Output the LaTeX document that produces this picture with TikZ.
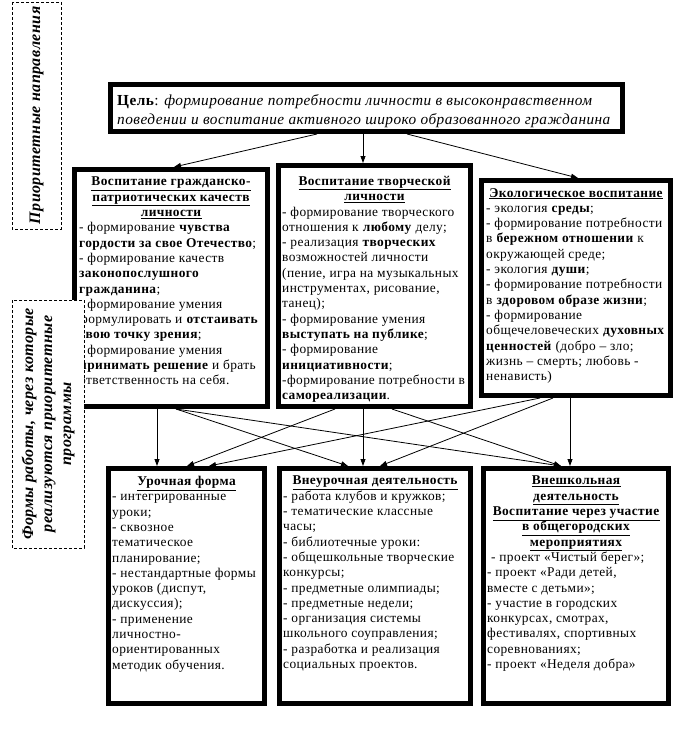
\documentclass[tikz,border=0pt]{standalone}
\usepackage{fontspec}
\setmainfont{Liberation Serif}[LetterSpace=3]
\usetikzlibrary{arrows.meta}
\newcommand\hd[2]{\makebox[#1][c]{\underline{\textbf{#2}}}}
\tikzset{
  bigbox/.style={draw, line width=5pt, fill=white, inner sep=0pt},
  dbox/.style={draw, line width=0.8pt, dash pattern=on 3pt off 2pt, fill=white, rotate=90, inner sep=0pt, align=center,
    font=\fontsize{16}{19}\selectfont\bfseries\itshape},
  txt/.style={anchor=north west, inner sep=0pt, align=left, font=\fontsize{13.4}{15.3}\selectfont},
  gtxt/.style={anchor=north west, inner sep=0pt, align=left, font=\fontsize{15.3}{19}\selectfont},
  arr/.style={line width=0.8pt, -{Triangle[length=7pt,width=5pt]}}
}
\begin{document}
\begin{tikzpicture}[x=1pt,y=-1pt]
\useasboundingbox (0,0) rectangle (675,733);
% boxes
\node[bigbox, minimum width=512pt, minimum height=47pt] (g) at (366.5,108) {};
\node[bigbox, minimum width=193pt, minimum height=237pt] (b1) at (171,288) {};
\node[bigbox, minimum width=192pt, minimum height=241pt] (b2) at (374.5,286) {};
\node[bigbox, minimum width=189pt, minimum height=215pt] (b3) at (576,288) {};
\node[bigbox, minimum width=156pt, minimum height=235pt] (b4) at (186.5,586) {};
\node[bigbox, minimum width=191pt, minimum height=235pt] (b5) at (375,586) {};
\node[bigbox, minimum width=185pt, minimum height=235pt] (b6) at (576,586) {};
% dashed label 1
\node[dbox, minimum width=227pt, minimum height=49pt] (dA) at (36.5,115.5) {Приоритетные направления};
% texts
\node[gtxt] (gt) at (117,94) {\textbf{Цель}: \textit{формирование потребности личности в высоконравственном}\\
\textit{поведении и воспитание активного широко образованного гражданина}};
\node[txt] (t1) at (79,177) {\hd{184pt}{Воспитание гражданско-}\\
\hd{184pt}{патриотических качеств}\\
\hd{184pt}{личности}\\
- формирование \textbf{чувства}\\
\textbf{гордости за свое Отечество};\\
- формирование качеств\\
\textbf{законопослушного}\\
\textbf{гражданина};\\
- формирование умения\\
формулировать и \textbf{отстаивать}\\
\textbf{свою точку зрения};\\
- формирование умения\\
\textbf{принимать решение} и брать\\
ответственность на себя.};
\node[txt] (t2) at (282,176) {\hd{185pt}{Воспитание творческой}\\
\hd{185pt}{личности}\\
- формирование творческого\\
отношения к \textbf{любому} делу;\\
- реализация \textbf{творческих}\\
возможностей личности\\
(пение, игра на музыкальных\\
инструментах, рисование,\\
танец);\\
- формирование умения\\
\textbf{выступать на публике};\\
- формирование\\
\textbf{инициативности};\\
-формирование потребности в\\
\textbf{самореализации}.};
\node[txt] (t3) at (486,188) {\hd{180pt}{Экологическое воспитание}\\
- экология \textbf{среды};\\
- формирование потребности\\
в \textbf{бережном отношении} к\\
окружающей среде;\\
- экология \textbf{души};\\
- формирование потребности\\
в \textbf{здоровом образе жизни};\\
- формирование\\
общечеловеческих \textbf{духовных}\\
\textbf{ценностей} (добро – зло;\\
жизнь – смерть; любовь -\\
ненависть)};
\node[txt] (t4) at (112,476) {\hd{149pt}{Урочная форма}\\
- интегрированные\\
уроки;\\
- сквозное\\
тематическое\\
планирование;\\
- нестандартные формы\\
уроков (диспут,\\
дискуссия);\\
- применение\\
личностно-\\
ориентированных\\
методик обучения.};
\node[txt] (t5) at (283,476) {\hd{184pt}{Внеурочная деятельность}\\
- работа клубов и кружков;\\
- тематические классные\\
часы;\\
- библиотечные уроки:\\
- общешкольные творческие\\
конкурсы;\\
- предметные олимпиады;\\
- предметные недели;\\
- организация системы\\
школьного соуправления;\\
- разработка и реализация\\
социальных проектов.};
\node[txt] (t6) at (487,476) {\hd{178pt}{Внешкольная}\\
\hd{178pt}{деятельность}\\
\hd{178pt}{Воспитание через участие}\\
\hd{178pt}{в общегородских}\\
\hd{178pt}{мероприятиях}\\
\hspace{4pt}- проект «Чистый берег»;\\
- проект «Ради детей,\\
вместе с детьми»;\\
- участие в городских\\
конкурсах, смотрах,\\
фестивалях, спортивных\\
соревнованиях;\\
- проект «Неделя добра»};
% connectors from goal
\coordinate (gm) at ([xshift=-3.5pt]g.south);
\draw[arr] ([xshift=-49.5pt]g.south) -- ([xshift=3pt]b1.north);
\draw[arr] (gm) -- (gm |- b2.north);
\draw[arr] ([xshift=40.5pt]g.south) -- ([xshift=2pt]b3.north);
% connectors between rows
\coordinate (s1a) at ([xshift=-14pt]b1.south);
\coordinate (s1b) at ([xshift=5pt]b1.south);
\coordinate (s2a) at ([xshift=-39.5pt]b2.south);
\coordinate (s2b) at ([xshift=-11.5pt]b2.south);
\coordinate (s2c) at ([xshift=17.5pt]b2.south);
\coordinate (s3a) at ([xshift=-36pt]b3.south);
\coordinate (s3b) at ([xshift=-23pt]b3.south);
\coordinate (s3c) at ([xshift=-6pt]b3.south);
\draw[arr] (s1a) -- (s1a |- b4.north);
\draw[arr] (s1b) -- ([xshift=-27pt]b5.north);
\draw[arr] (s1b) -- ([xshift=-15pt]b6.north);
\draw[arr] (s2a) -- ([xshift=0.5pt]b4.north);
\draw[arr] (s2b) -- (s2b |- b5.north);
\draw[arr] (s2c) -- ([xshift=-15pt]b6.north);
\draw[arr] (s3a) -- ([xshift=22.5pt]b4.north);
\draw[arr] (s3b) -- ([xshift=5pt]b5.north);
\draw[arr] (s3c) -- (s3c |- b6.north);
% dashed label 2 (on top of box 1)
\node[dbox, minimum width=248pt, minimum height=72pt] (dB) at (48,424) {Формы работы, через которые\\ реализуются приоритетные\\ программы};
\end{tikzpicture}
\end{document}
